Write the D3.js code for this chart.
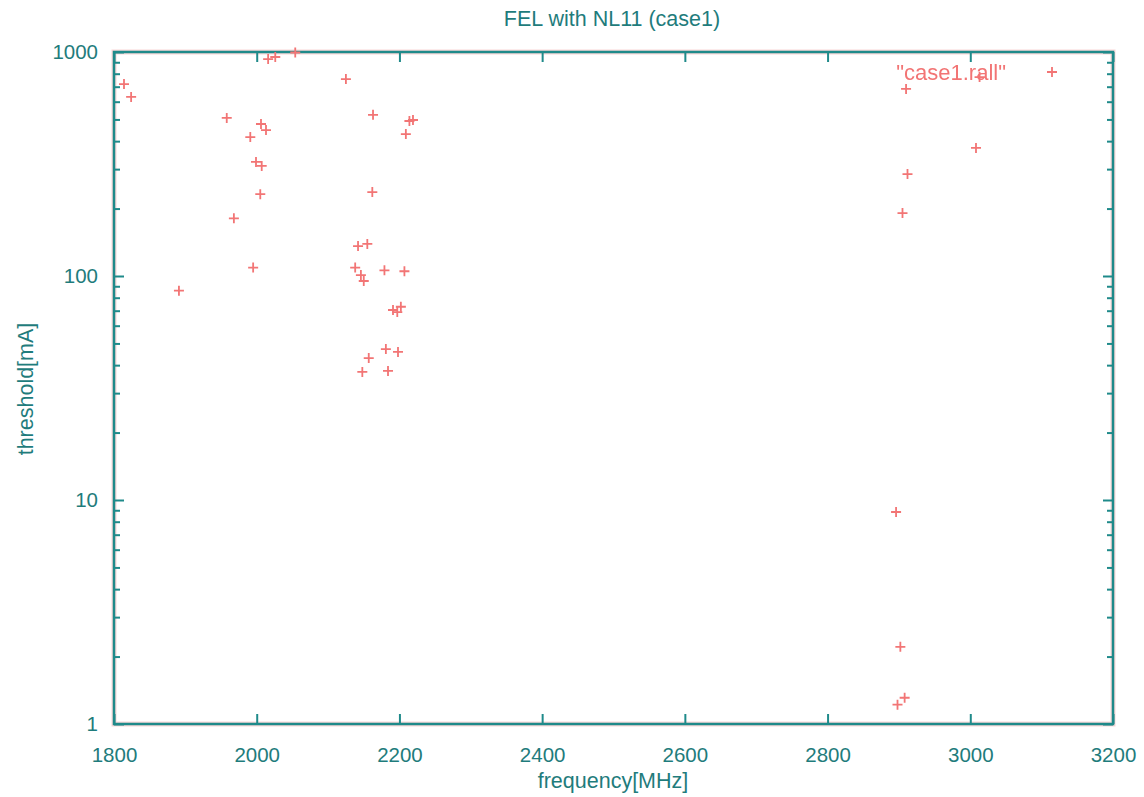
<!DOCTYPE html>
<html>
<head>
<meta charset="utf-8">
<script src="https://cdn.jsdelivr.net/npm/d3@7"></script>
<style>
  html, body { margin: 0; padding: 0; background: #fff; }
  svg { display: block; }
  text { font-family: "Liberation Sans", Arial, sans-serif; fill: #1f7c7c; }
</style>
</head>
<body>
<svg id="chart" width="1144" height="797"></svg>
<script>
// ---- data ----
const title = "FEL with NL11 (case1)";
const xLabel = "frequency[MHz]";
const yLabel = "threshold[mA]";
const seriesName = "\"case1.rall\"";
const xTicks = [1800, 2000, 2200, 2400, 2600, 2800, 3000, 3200];
const yTicks = [1, 10, 100, 1000];
const frequency = [
  1814, 1824, 1958, 1991, 2006, 2013, 1999, 2007, 2005, 1968, 1995, 1891,
  2016, 2026, 2054, 2125, 2163, 2214, 2219, 2209, 2162,
  2142, 2155, 2138, 2146, 2150, 2179, 2207,
  2191, 2197, 2202, 2181, 2198, 2157, 2148, 2184,
  2910, 3013, 3008, 2912, 2905, 2896, 2902, 2898, 2908
];
const threshold = [
  719, 630, 508, 417, 477, 448, 323, 310, 232, 181, 109, 86,
  930, 950, 995, 757, 524, 492, 497, 430, 237,
  136, 139, 109, 101, 95, 106, 105,
  70.5, 69, 72.9, 47.2, 45.8, 43, 37.3, 37.7,
  684, 773, 373, 285, 191, 8.84, 2.21, 1.22, 1.31
];

// ---- layout ----
const svg = d3.select("#chart");
const L = 114, R = 1113, T = 52, B = 724;
const axisColor = "#1f8a8a";
const pointColor = "#f27474";

const x = d3.scaleLinear().domain([1800, 3200]).range([L, R]);
const y = d3.scaleLog().domain([1, 1000]).range([B, T]);

const defs = svg.append("defs");
defs.append("filter").attr("id", "soft")
  .append("feGaussianBlur").attr("stdDeviation", 0.5);

// minor log ticks
const minor = [];
for (let d = 1; d < 1000; d *= 10) for (let k = 2; k <= 9; k++) minor.push(d * k);

function styleAxis(g) {
  g.select(".domain").remove();
  g.selectAll(".tick line").attr("stroke", axisColor).attr("stroke-width", 2);
  g.selectAll(".tick text").attr("font-size", 20.5).attr("fill", "#1f7c7c")
    .style("font-family", "'Liberation Sans', Arial, sans-serif");
}

// halo frame
svg.append("rect").attr("x", L).attr("y", T).attr("width", R - L).attr("height", B - T)
  .attr("fill", "none").attr("stroke", "#f4b0b0").attr("stroke-width", 5).attr("opacity", 0.5);

// bottom axis with labels
svg.append("g").attr("transform", `translate(0,${B})`)
  .call(d3.axisBottom(x).tickValues(xTicks).tickFormat(d3.format("d")).tickSizeInner(-10).tickSizeOuter(0).tickPadding(23))
  .call(styleAxis);
// top axis ticks
svg.append("g").attr("transform", `translate(0,${T})`)
  .call(d3.axisTop(x).tickValues(xTicks).tickFormat("").tickSizeInner(-10).tickSizeOuter(0))
  .call(styleAxis);
// left axis with labels
svg.append("g").attr("transform", `translate(${L},0)`)
  .call(d3.axisLeft(y).tickValues(yTicks).tickFormat(d3.format("d")).tickSizeInner(-10).tickSizeOuter(0).tickPadding(16))
  .call(styleAxis);
svg.append("g").attr("transform", `translate(${L},0)`)
  .call(d3.axisLeft(y).tickValues(minor).tickFormat("").tickSizeInner(-6).tickSizeOuter(0))
  .call(styleAxis);
// right axis ticks
svg.append("g").attr("transform", `translate(${R},0)`)
  .call(d3.axisRight(y).tickValues(yTicks).tickFormat("").tickSizeInner(-10).tickSizeOuter(0))
  .call(styleAxis);
svg.append("g").attr("transform", `translate(${R},0)`)
  .call(d3.axisRight(y).tickValues(minor).tickFormat("").tickSizeInner(-6).tickSizeOuter(0))
  .call(styleAxis);

// frame
svg.append("rect").attr("x", L).attr("y", T).attr("width", R - L).attr("height", B - T)
  .attr("fill", "none").attr("stroke", axisColor).attr("stroke-width", 2.5);

// points as '+'
const arm = 5;
function plusPath(cx, cy) {
  return `M${cx - arm},${cy}H${cx + arm}M${cx},${cy - arm}V${cy + arm}`;
}
const pts = frequency.map((f, i) => ({ f, v: threshold[i] }));
svg.append("g").attr("filter", "url(#soft)")
  .selectAll("path").data(pts).join("path")
  .attr("d", d => plusPath(x(d.f), y(d.v)))
  .attr("stroke", pointColor).attr("stroke-width", 1.8).attr("fill", "none");

// legend
svg.append("text").attr("x", 1006).attr("y", 80).attr("text-anchor", "end")
  .attr("font-size", 22).style("fill", pointColor).attr("filter", "url(#soft)")
  .text(seriesName);
svg.append("path").attr("d", plusPath(1052, 72))
  .attr("stroke", pointColor).attr("stroke-width", 1.8).attr("filter", "url(#soft)");

// titles
svg.append("text").attr("x", 612).attr("y", 26).attr("text-anchor", "middle")
  .attr("font-size", 21.5).text(title);
svg.append("text").attr("x", 613).attr("y", 788).attr("text-anchor", "middle")
  .attr("font-size", 21.5).text(xLabel);
svg.append("text").attr("transform", "translate(33,389) rotate(-90)").attr("text-anchor", "middle")
  .attr("font-size", 21.5).text(yLabel);
</script>
</body>
</html>
